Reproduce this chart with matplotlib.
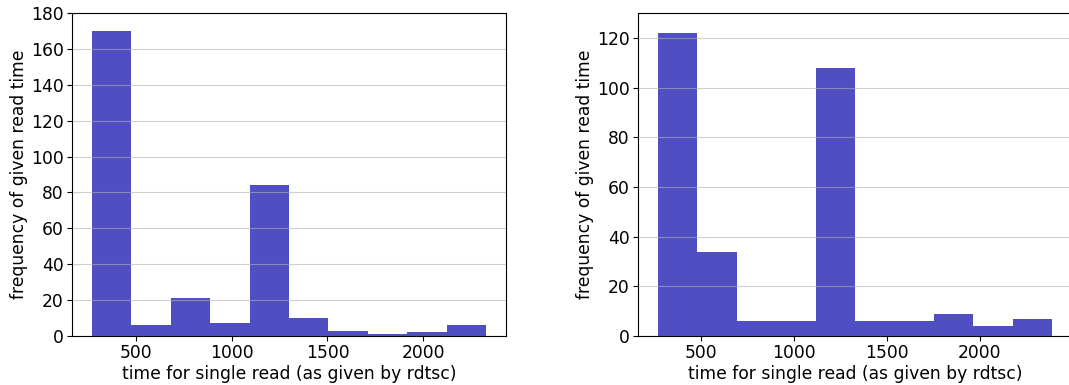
import numpy as np
import matplotlib
matplotlib.use("Agg")
import matplotlib.pyplot as plt

# histogram bin edges and counts
left_edges = [268, 474, 680, 887, 1093, 1299, 1505, 1712, 1918, 2124, 2330]
left_counts = [170, 6, 21, 7, 84, 10, 3, 1, 2, 6]

right_edges = [265, 478, 690, 903, 1115, 1328, 1540, 1753, 1965, 2178, 2390]
right_counts = [122, 34, 6, 6, 108, 6, 6, 9, 4, 7]

x_ticks = [500, 1000, 1500, 2000]
x_label = "time for single read (as given by rdtsc)"
y_label = "frequency of given read time"

fig = plt.figure(figsize=(10.69, 3.85), dpi=100)
W, H = 1069, 385

panels = [
    (left_edges, left_counts, 180, 72, [0, 20, 40, 60, 80, 100, 120, 140, 160, 180]),
    (right_edges, right_counts, 130, 638, [0, 20, 40, 60, 80, 100, 120]),
]

for edges, counts, ytop, left_px, yticks in panels:
    ax = fig.add_axes([left_px / W, (H - 336) / H, 434 / W, 323 / H])
    edges = np.asarray(edges, dtype=float)
    ax.hist(edges[:-1], bins=edges, weights=counts, color="#0504aa", alpha=0.7)
    ax.grid(axis="y", alpha=0.6)
    ax.set_ylim(0, ytop)
    ax.set_xticks(x_ticks)
    ax.set_yticks(yticks)
    ax.tick_params(labelsize=12.3, pad=2.5)
    ax.set_xlabel(x_label, fontsize=12.3, labelpad=2)
    ax.set_ylabel(y_label, fontsize=12.3, labelpad=2)

fig.savefig("out.png", dpi=100)
